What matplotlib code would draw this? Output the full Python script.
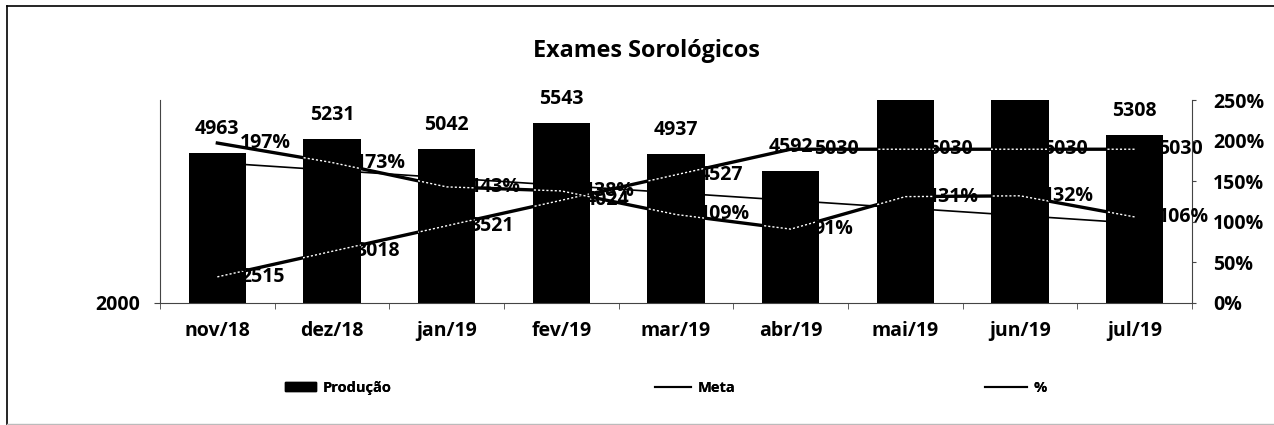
import numpy as np
import matplotlib
matplotlib.use("Agg")
import matplotlib.pyplot as plt
from matplotlib.lines import Line2D
from matplotlib.patches import Patch

# ---- data ----
categories = ["nov/18", "dez/18", "jan/19", "fev/19", "mar/19", "abr/19", "mai/19", "jun/19", "jul/19"]
producao = [4963, 5231, 5042, 5543, 4937, 4592, 6589, 6640, 5308]
meta = [2515, 3018, 3521, 4024, 4527, 5030, 5030, 5030, 5030]
percent = [1.97, 1.73, 1.43, 1.38, 1.09, 0.91, 1.31, 1.32, 1.06]
pct_labels = ["197%", "173%", "143%", "138%", "109%", "91%", "131%", "132%", "106%"]
left_ticks = [2000]
right_ticks = [0, 0.5, 1.0, 1.5, 2.0, 2.5]
right_tick_labels = ["0%", "50%", "100%", "150%", "200%", "250%"]
title = "Exames Sorológicos"
legend_labels = ["Produção", "Meta", "%"]

plt.rcParams['font.family'] = ['Open Sans', 'DejaVu Sans']
plt.rcParams['font.weight'] = 'bold'

W, H = 1274, 425
fig = plt.figure(figsize=(W / 100, H / 100), dpi=100)
ax = fig.add_axes([160 / W, 1 - 303 / H, (1192 - 160) / W, (303 - 100) / H])
ax2 = ax.twinx()

x = np.arange(len(categories))
bars = ax.bar(x, producao, width=0.5, color="black", zorder=2)
ax.set_xlim(-0.5, len(categories) - 0.5)
ax.set_ylim(2000, 6000)
ax2.set_ylim(0, 2.5)

# lines
ax.plot(x, meta, color="black", lw=2.4, zorder=3)
ax2.plot(x, percent, color="black", lw=2.4, zorder=3)
coef = np.polyfit(x, percent, 1)
ax2.plot(x, np.polyval(coef, x), color="black", lw=1.2, zorder=2)

# speckled look where lines cross the bars
for b in bars:
    l1, = ax.plot(x, meta, color="white", lw=1.0, ls=(0, (1.5, 1.5)), zorder=4)
    l1.set_clip_path(b)
    l2, = ax2.plot(x, percent, color="white", lw=1.0, ls=(0, (1.5, 1.5)), zorder=4)
    l2.set_clip_path(b)

# axes styling
ax.spines["top"].set_visible(False)
ax2.spines["top"].set_visible(False)
ax.spines["right"].set_visible(False)
ax2.spines["left"].set_visible(False)
ax2.spines["bottom"].set_visible(False)
for a in (ax, ax2):
    for sp in a.spines.values():
        sp.set_linewidth(0.8)
        sp.set_color("#444444")

fs = 14
ax.set_yticks(left_ticks)
ax.set_yticklabels([str(t) for t in left_ticks], fontsize=fs, fontweight="bold")
ax.tick_params(axis="y", direction="out", length=4, pad=10, color="#444444")
ax.set_xticks(x)
ax.set_xticklabels(categories, fontsize=fs, fontweight="bold")
ax.set_xticks(np.arange(-0.5, len(categories), 1.0), minor=True)
ax.tick_params(axis="x", which="major", length=0, pad=13)
ax.tick_params(axis="x", which="minor", length=4, direction="out", color="#444444")

ax2.set_yticks(right_ticks)
ax2.set_yticklabels(right_tick_labels, fontsize=fs, fontweight="bold")
ax2.tick_params(axis="y", direction="out", length=3, pad=12, color="#444444")

# data labels
ymax = ax.get_ylim()[1]
for i, v in enumerate(producao):
    if v <= ymax:
        ax.annotate(str(v), (i, v), xytext=(0, 24), textcoords="offset pixels",
                    ha="center", va="center", fontsize=fs, fontweight="bold", zorder=6)
for i, v in enumerate(meta):
    ax.annotate(str(v), (i, v), xytext=(23, 0), textcoords="offset pixels",
                ha="left", va="center", fontsize=fs, fontweight="bold", zorder=6)
for i, v in enumerate(percent):
    ax2.annotate(pct_labels[i], (i, v), xytext=(23, 0), textcoords="offset pixels",
                 ha="left", va="center", fontsize=fs, fontweight="bold", zorder=6)

fig.text(646 / W, 1 - 51 / H, title, ha="center", va="center", fontsize=16.8, fontweight="bold")

# legend: three entries spread across the bottom
handles = [Patch(facecolor="black", edgecolor="black"),
           Line2D([], [], color="black", lw=1.5),
           Line2D([], [], color="black", lw=1.5)]
leg_x = [285, 655, 985]
hlen = [2.15, 2.5, 2.9]
for h, lab, lx, hl in zip(handles, legend_labels, leg_x, hlen):
    lg = fig.legend([h], [lab], loc="center left", bbox_to_anchor=(lx / W, 1 - 388 / H),
                    frameon=False, handlelength=hl, handleheight=0.55, handletextpad=0.4,
                    borderpad=0, borderaxespad=0, prop={"weight": "bold", "size": 10.5})
    fig.add_artist(lg)

# outer frame
fig.add_artist(Line2D([7 / W, 7 / W], [0, 1 - 6 / H], transform=fig.transFigure, color="black", lw=1.2))
fig.add_artist(Line2D([7 / W, 1], [1 - 6 / H, 1 - 6 / H], transform=fig.transFigure, color="black", lw=1.2))
fig.add_artist(Line2D([7 / W, 1], [1 / H, 1 / H], transform=fig.transFigure, color="#bbbbbb", lw=1.0))

fig.savefig("out.png", dpi=100, facecolor="white")
